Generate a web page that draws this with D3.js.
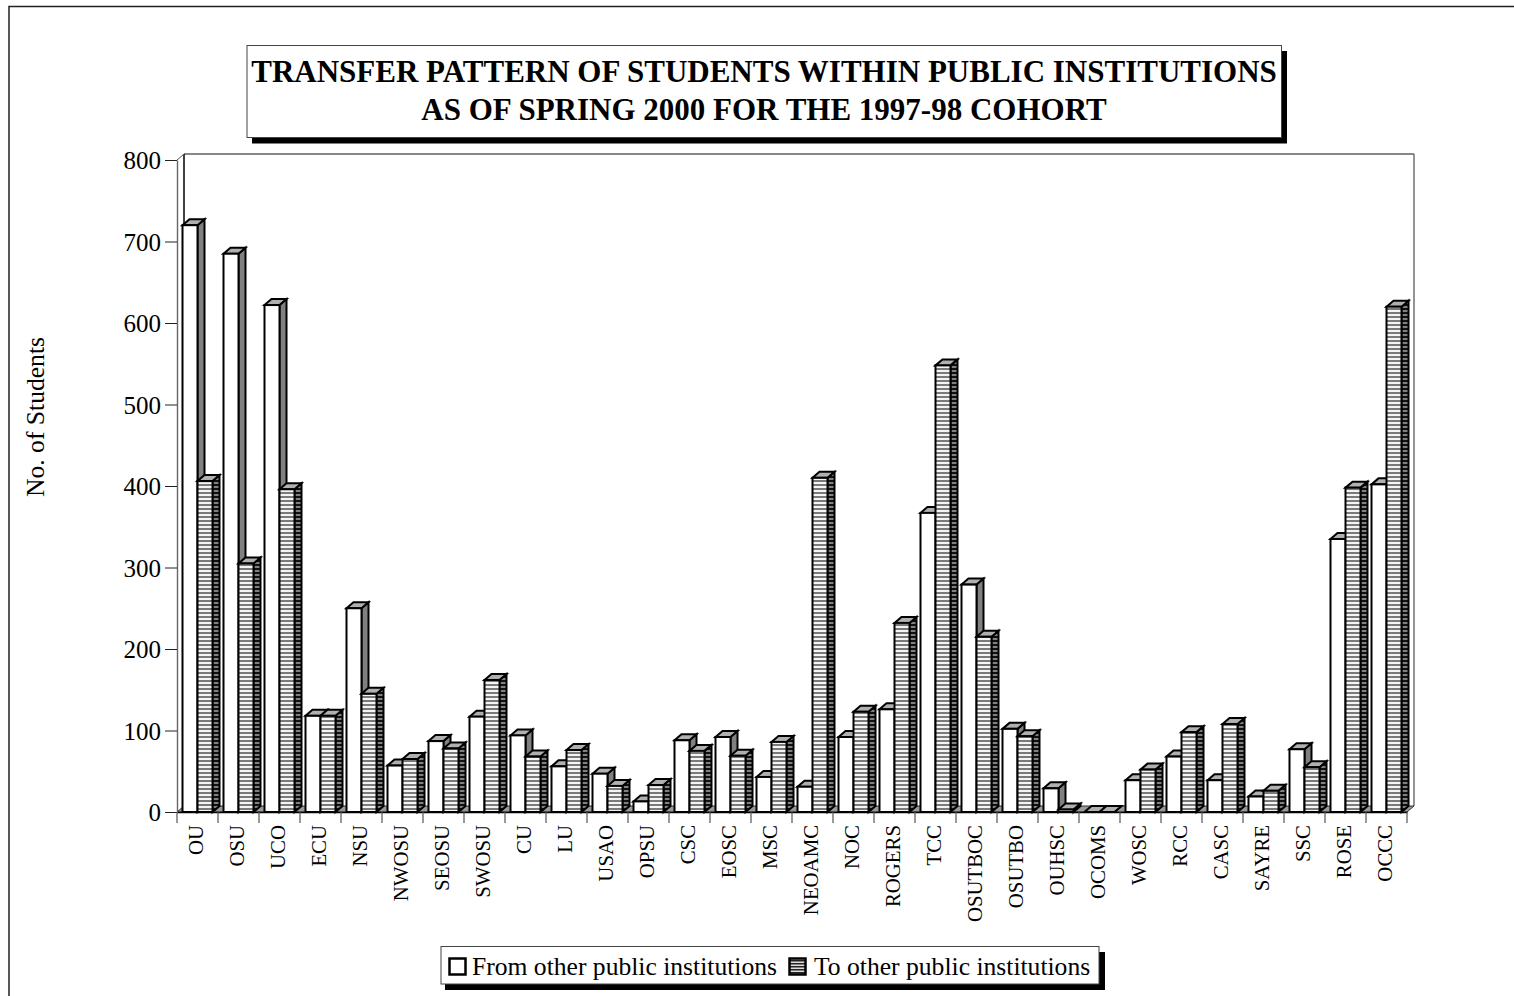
<!DOCTYPE html>
<html><head><meta charset="utf-8"><script src="https://cdn.jsdelivr.net/npm/d3@7"></script>
<style>html,body{margin:0;padding:0;background:#fff}svg{display:block}text{font-family:"Liberation Serif",serif;fill:#000}</style></head>
<body><script>
const categories=["OU","OSU","UCO","ECU","NSU","NWOSU","SEOSU","SWOSU","CU","LU","USAO","OPSU","CSC","EOSC","MSC","NEOAMC","NOC","ROGERS","TCC","OSUTBOC","OSUTBO","OUHSC","OCOMS","WOSC","RCC","CASC","SAYRE","SSC","ROSE","OCCC"];
const fromValues=[720,685,622,118,250,57,87,117,94,56,47,13,88,92,43,31,92,126,367,279,102,29,0,39,68,39,19,77,335,402];
const toValues=[406,305,396,118,145,65,78,162,68,76,32,33,75,69,86,410,123,232,548,215,93,3,0,52,98,108,26,55,398,620];
const yTicks=[0,100,200,300,400,500,600,700,800];
const titleLines=["TRANSFER PATTERN OF STUDENTS WITHIN PUBLIC INSTITUTIONS","AS OF SPRING 2000 FOR THE 1997-98 COHORT"];
const seriesNames=["From other public institutions","To other public institutions"];
const yLabel="No. of Students";

const W=1514,H=996,dx=7,dy=6;
const svg=d3.select("body").append("svg").attr("width",W).attr("height",H);
const defs=svg.append("defs");
function stripes(id,bg,fg,period,th){
  const p=defs.append("pattern").attr("id",id).attr("patternUnits","userSpaceOnUse").attr("width",period).attr("height",period);
  p.append("rect").attr("width",period).attr("height",period).attr("fill",bg);
  p.append("rect").attr("width",period).attr("height",th).attr("fill",fg);
}
stripes("front","#f4f4f4","#7a7a7a",4,2);
stripes("side","#808080","#111",4,2);
stripes("lg","#ddd","#222",3,1.5);

// outer frame
svg.append("path").attr("d","M9,996V6.5H1514").attr("fill","none").attr("stroke","#222").attr("stroke-width",1.5);

const x=d3.scaleBand().domain(categories).range([177,1407]);
const y=d3.scaleLinear().domain([0,800]).range([812,160]);
const bw=x.bandwidth();

// back wall
const g=svg.append("g");
const x0=x.range()[0],x1=x.range()[1],yB=y(0),yT=y(800);
g.append("path").attr("d",`M${x0+dx},${yT-dy}H${x1+dx}`).attr("stroke","#111").attr("fill","none").attr("stroke-width",1.2);
g.append("path").attr("d",`M${x1+dx},${yT-dy}V${yB-dy}`).attr("stroke","#666").attr("fill","none").attr("stroke-width",1.4);
g.append("path").attr("d",`M${x0+dx},${yT-dy}V${yB-dy}`).attr("stroke","#000").attr("fill","none").attr("stroke-width",1.5);
g.append("path").attr("d",`M${x0},${yT}L${x0+dx},${yT-dy}`).attr("stroke","#555").attr("fill","none");
// floor
g.append("path").attr("d",`M${x0},${yB}L${x0+dx},${yB-dy}H${x1+dx}L${x1},${yB}Z`).attr("fill","#999").attr("stroke","#333").attr("stroke-width",1);

// y axis
const ya=svg.append("g").attr("transform",`translate(${x0},0)`).call(d3.axisLeft(y).tickValues(yTicks).tickSize(12).tickSizeOuter(0).tickPadding(4));
ya.selectAll("text").style("font-size","25px").attr("dy","0.34em");
ya.select("path").attr("stroke","#666").attr("stroke-width",1.4);
ya.selectAll("line").attr("stroke","#222");

// x axis
const xa=svg.append("g").attr("transform",`translate(0,${yB})`).call(d3.axisBottom(x).tickSize(0).tickSizeOuter(0).tickFormat(""));
xa.select("path").attr("stroke","#000").attr("stroke-width",1.5);
xa.selectAll(".tick").remove();
svg.append("g").selectAll("line").data(d3.range(categories.length+1)).join("line")
 .attr("x1",i=>x0+i*bw).attr("x2",i=>x0+i*bw).attr("y1",yB).attr("y2",yB+11).attr("stroke","#555").attr("stroke-width",1.2);
svg.append("g").selectAll("text").data(categories).join("text")
 .attr("transform",d=>`translate(${x(d)+bw/2-1.5},${yB+13}) rotate(-90)`)
 .attr("text-anchor","end").attr("dy","0.33em").style("font-size","20.8px").text(d=>d);

// bars
function bar(sel,xp,w,v,frontFill,sideFill){
  const t=y(v);
  const gg=sel.append("g").attr("stroke","#000").attr("stroke-width",2).attr("stroke-linejoin","miter");
  gg.append("path").attr("d",`M${xp+w},${t}L${xp+w+dx},${t-dy}V${yB-dy}L${xp+w},${yB}Z`).attr("fill",sideFill);
  gg.append("path").attr("d",`M${xp},${t}L${xp+dx},${t-dy}H${xp+w+dx}L${xp+w},${t}Z`).attr("fill","#b0b0b0");
  gg.append("rect").attr("x",xp).attr("y",t).attr("width",w).attr("height",yB-t).attr("fill",frontFill);
}
const bars=svg.append("g");
const pad=5.5,sw=15;
categories.forEach((c,i)=>{
  const b=bars.append("g");
  bar(b,x(c)+pad,sw,fromValues[i],"#fff","#808080");
  bar(b,x(c)+pad+sw,sw,toValues[i],"url(#front)","url(#side)");
});

// title box
const tb=svg.append("g");
tb.append("rect").attr("x",252).attr("y",51).attr("width",1035).attr("height",92.5).attr("fill","#000");
tb.append("rect").attr("x",247).attr("y",45.5).attr("width",1034.5).attr("height",92).attr("fill","#fff").attr("stroke","#444");
tb.selectAll("text").data(titleLines).join("text").attr("x",764).attr("y",(d,i)=>82+i*38)
 .attr("text-anchor","middle").style("font-size","31px").style("font-weight","bold").text(d=>d);

// y label
svg.append("text").attr("transform","translate(43.5,417) rotate(-90)").attr("text-anchor","middle").style("font-size","25.6px").text(yLabel);

// legend
const lg=svg.append("g");
lg.append("rect").attr("x",445).attr("y",952).attr("width",660).attr("height",38).attr("fill","#000");
lg.append("rect").attr("x",441).attr("y",946.5).attr("width",658).attr("height",37.5).attr("fill","#fff").attr("stroke","#444");
lg.append("rect").attr("x",449.5).attr("y",958.5).attr("width",16).attr("height",16).attr("fill","#fff").attr("stroke","#000").attr("stroke-width",2.5);
lg.append("rect").attr("x",789.5).attr("y",958.5).attr("width",16).attr("height",16).attr("fill","url(#lg)").attr("stroke","#000").attr("stroke-width",2.5);
lg.append("text").attr("x",472).attr("y",974.5).style("font-size","25.6px").text(seriesNames[0]);
lg.append("text").attr("x",814).attr("y",974.5).style("font-size","25.6px").text(seriesNames[1]);
</script></body></html>
